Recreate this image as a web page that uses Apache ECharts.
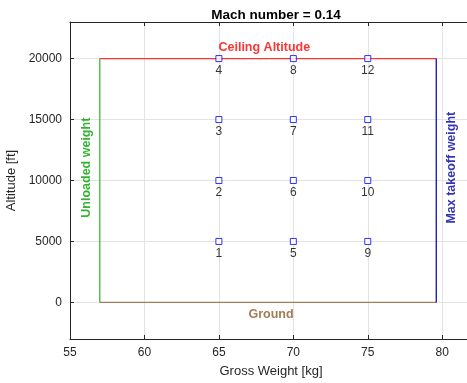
<!DOCTYPE html>
<html>
<head>
<meta charset="utf-8">
<script src="https://cdn.jsdelivr.net/npm/echarts@6/dist/echarts.min.js"></script>
<style>
  html, body { margin: 0; padding: 0; background: #fff; }
  #chart { width: 467px; height: 383px; }
</style>
</head>
<body>
<div id="chart"></div>
<script>
// flight test points (gross weight, altitude)
const pointWeights = [65, 65, 65, 65, 70, 70, 70, 70, 75, 75, 75, 75]
const pointAltitudes = [5000, 10000, 15000, 20000, 5000, 10000, 15000, 20000, 5000, 10000, 15000, 20000]
const pointLabels = ['1', '2', '3', '4', '5', '6', '7', '8', '9', '10', '11', '12']

// envelope limits
const minWeight = 57
const maxWeight = 79.6
const ceiling = 20000
const ground = 0

const xTicks = [55, 60, 65, 70, 75, 80]
const yTicks = [0, 5000, 10000, 15000, 20000]

const boundaryNames = ['Ceiling Altitude', 'Ground', 'Unloaded weight', 'Max takeoff weight']
const boundaryLabelX = [68.05, 68.5, 56.1, 80.65]
const boundaryLabelY = [20900, -980, 11050, 11050]

const font = '"Liberation Sans", Arial, Helvetica, sans-serif'
const axisColor = '#262626'

const chart = echarts.init(document.getElementById('chart'))

const points = pointWeights.map((w, i) => [w, pointAltitudes[i], pointLabels[i]])

const boundaryLabel = (i, color, rotate) => ({
  value: [boundaryLabelX[i], boundaryLabelY[i]],
  label: {
    show: true,
    formatter: boundaryNames[i],
    color: color,
    fontWeight: 'bold',
    fontSize: 12.5,
    fontFamily: font,
    rotate: rotate,
    position: 'inside'
  }
})

const edge = (data, color) => ({
  type: 'line',
  data: data,
  symbol: 'none',
  silent: true,
  lineStyle: { color: color, width: 1.3 },
  z: 3
})

const option = {
  animation: false,
  title: {
    text: 'Mach number = 0.14',
    left: 271,
    top: 3,
    textAlign: 'center',
    textStyle: { fontFamily: font, fontSize: 13.5, fontWeight: 'bold', color: '#000' }
  },
  grid: { left: 70, right: -5, top: 22, bottom: 44, show: false, outerBoundsMode: 'none', containLabel: false },
  xAxis: [
    {
      type: 'value',
      min: 55,
      max: 82,
      name: 'Gross Weight [kg]',
      nameLocation: 'middle',
      nameGap: 26,
      nameTextStyle: { fontFamily: font, fontSize: 13, color: axisColor },
      axisLine: { show: true, onZero: false, lineStyle: { color: axisColor } },
      axisTick: { show: true, inside: true, length: 4, customValues: xTicks, lineStyle: { color: axisColor } },
      axisLabel: { customValues: xTicks, fontFamily: font, fontSize: 12, color: axisColor, margin: 8 },
      splitLine: { show: true, lineStyle: { color: '#e3e3e3' } }
    },
    {
      type: 'value',
      position: 'top',
      min: 55,
      max: 82,
      axisLine: { show: true, onZero: false, lineStyle: { color: axisColor } },
      axisTick: { show: true, inside: true, length: 4, customValues: xTicks, lineStyle: { color: axisColor } },
      axisLabel: { show: false },
      splitLine: { show: false }
    }
  ],
  yAxis: {
    type: 'value',
    min: -3000,
    max: 23000,
    name: 'Altitude [ft]',
    nameLocation: 'middle',
    nameGap: 48,
    nameTextStyle: { fontFamily: font, fontSize: 13, color: axisColor },
    axisLine: { show: true, onZero: false, lineStyle: { color: axisColor } },
    axisTick: { show: true, inside: true, length: 4, customValues: yTicks, lineStyle: { color: axisColor } },
    axisLabel: { customValues: yTicks, formatter: v => String(v), fontFamily: font, fontSize: 12, color: axisColor, margin: 8 },
    splitLine: { show: true, lineStyle: { color: '#e3e3e3' } }
  },
  series: [
    edge([[minWeight, ceiling], [maxWeight, ceiling]], '#ff3030'),
    edge([[minWeight, ground], [maxWeight, ground]], '#a57c5a'),
    edge([[minWeight, ground], [minWeight, ceiling]], '#3cb83c'),
    edge([[maxWeight, ground], [maxWeight, ceiling]], '#1010b0'),
    {
      type: 'scatter',
      data: points,
      symbol: 'rect',
      symbolSize: 6,
      itemStyle: { color: '#fff', borderColor: '#0000ff', borderWidth: 1 },
      label: {
        show: true,
        position: 'bottom',
        distance: 3,
        formatter: p => p.value[2],
        fontFamily: font,
        fontSize: 12,
        color: '#000'
      },
      z: 5
    },
    {
      type: 'scatter',
      symbolSize: 0,
      silent: true,
      data: [
        boundaryLabel(0, '#ff0000', 0),
        boundaryLabel(1, '#8b5a2b', 0),
        boundaryLabel(2, '#00a000', 90),
        boundaryLabel(3, '#0000a0', 90)
      ],
      z: 6
    }
  ]
}

chart.setOption(option)
</script>
</body>
</html>
